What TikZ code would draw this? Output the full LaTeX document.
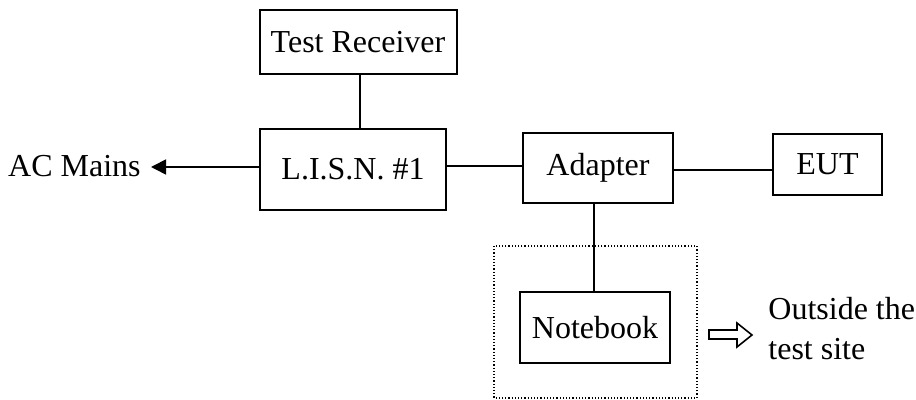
\documentclass[tikz,border=0pt]{standalone}
\usepackage{fontspec}
\setmainfont{Liberation Serif}
\usetikzlibrary{arrows.meta}
\begin{document}
\begin{tikzpicture}[x=0.5pt,y=-0.5pt,
  box/.style={draw,line width=1pt,inner sep=0pt,font=\fontsize{16}{19}\selectfont},
  conn/.style={line width=0.8pt},
  lbl/.style={inner sep=0pt,font=\fontsize{16}{20}\selectfont}]
\useasboundingbox (0,0) rectangle (916,400);
\node[box,minimum width=98.5pt,minimum height=32pt] (tr) at (358,42) {Test Receiver};
\node[box,minimum width=93pt,minimum height=40.5pt] (lisn) at (353,169.5) {L.I.S.N. \#1};
\node[box,minimum width=75pt,minimum height=35pt] (ad) at (598,168) {Adapter};
\node[box,minimum width=54.5pt,minimum height=30.5pt] (eut) at (827.5,164.5) {EUT};
\node[box,minimum width=75pt,minimum height=35.5pt] (nb) at (595,327.5) {Notebook};
\node[lbl,anchor=east] (ac) at (141,166) {AC Mains};
\node[lbl,anchor=north west,align=left] (out) at (768,297) {Outside the\\test site};
\coordinate (tx) at (360,0);
\coordinate (ax) at (594,0);
\coordinate (acend) at (151,167);
\draw[conn] (tr.south -| tx) -- (lisn.north -| tx);
\draw[conn,-{Triangle[length=7.5pt,width=7.5pt]}] (lisn.west |- acend) -- (acend);
\draw[conn] (lisn.east |- 0,166) -- (ad.west |- 0,166);
\draw[conn] (ad.east |- 0,170) -- (eut.west |- 0,170);
\draw[conn] (ad.south -| ax) -- (nb.north -| ax);
\draw[line width=0.6pt,densely dotted] (494,246) rectangle (697,398);
\draw[line width=0.8pt] (709,330) -- (737,330) -- (737,323) -- (752,335) -- (737,347) -- (737,339) -- (709,339) -- cycle;
\end{tikzpicture}
\end{document}
